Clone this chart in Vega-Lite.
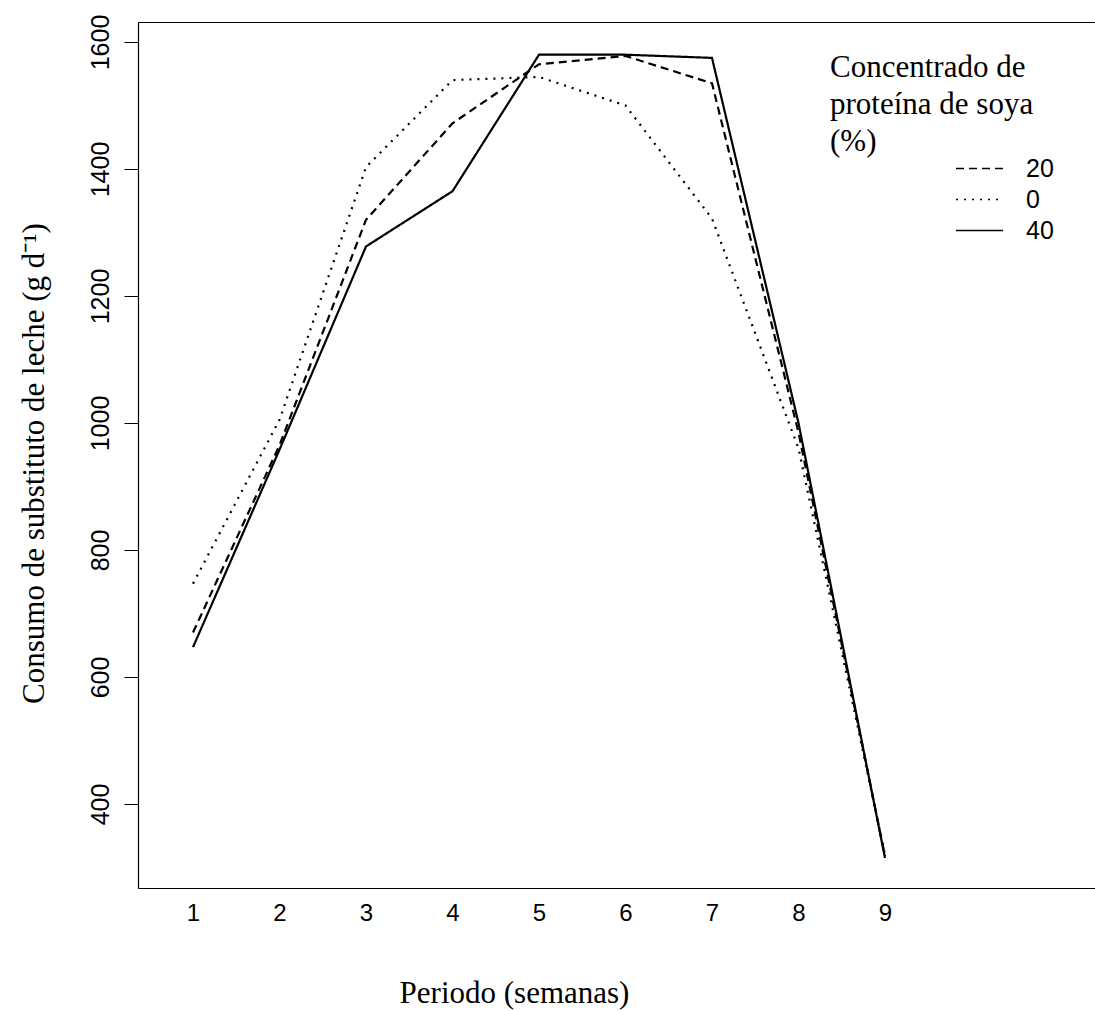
{
  "$schema": "https://vega.github.io/schema/vega-lite/v6.json",
  "width": 957,
  "height": 866,
  "autosize": {"type": "none"},
  "padding": {"left": 138, "top": 22, "right": 0, "bottom": 123},
  "background": "white",
  "data": {
    "values": [
      {"semana": 1, "valor": 670, "soya": "20"},
      {"semana": 2, "valor": 965, "soya": "20"},
      {"semana": 3, "valor": 1320, "soya": "20"},
      {"semana": 4, "valor": 1472, "soya": "20"},
      {"semana": 5, "valor": 1565, "soya": "20"},
      {"semana": 6, "valor": 1578, "soya": "20"},
      {"semana": 7, "valor": 1535, "soya": "20"},
      {"semana": 8, "valor": 985, "soya": "20"},
      {"semana": 9, "valor": 318, "soya": "20"},
      {"semana": 1, "valor": 747, "soya": "0"},
      {"semana": 2, "valor": 1005, "soya": "0"},
      {"semana": 3, "valor": 1403, "soya": "0"},
      {"semana": 4, "valor": 1540, "soya": "0"},
      {"semana": 5, "valor": 1545, "soya": "0"},
      {"semana": 6, "valor": 1500, "soya": "0"},
      {"semana": 7, "valor": 1322, "soya": "0"},
      {"semana": 8, "valor": 960, "soya": "0"},
      {"semana": 9, "valor": 320, "soya": "0"},
      {"semana": 1, "valor": 647, "soya": "40"},
      {"semana": 2, "valor": 958, "soya": "40"},
      {"semana": 3, "valor": 1278, "soya": "40"},
      {"semana": 4, "valor": 1365, "soya": "40"},
      {"semana": 5, "valor": 1580, "soya": "40"},
      {"semana": 6, "valor": 1580, "soya": "40"},
      {"semana": 7, "valor": 1575, "soya": "40"},
      {"semana": 8, "valor": 1000, "soya": "40"},
      {"semana": 9, "valor": 315, "soya": "40"}
    ]
  },
  "config": {
    "view": {"stroke": null},
    "axis": {"grid": false, "domainColor": "black", "domainWidth": 1.2, "tickColor": "black", "labelColor": "black", "titleColor": "black"},
    "legend": {"labelColor": "black", "titleColor": "black"}
  },
  "layer": [
    {
      "mark": {"type": "line", "strokeWidth": 2.2, "color": "black"},
      "encoding": {
        "x": {
          "field": "semana", "type": "quantitative",
          "scale": {"domain": [0.364, 11.428], "nice": false, "zero": false},
          "axis": {
            "orient": "bottom", "values": [1, 2, 3, 4, 5, 6, 7, 8, 9],
            "ticks": false, "tickSize": 0, "labelPadding": 13,
            "labelFont": "Liberation Sans", "labelFontSize": 24,
            "labelFlush": false, "labelOverlap": false,
            "title": "Periodo (semanas)", "titleFont": "Liberation Serif",
            "titleFontSize": 31, "titleFontWeight": "normal",
            "titleX": 376, "titleY": 114, "titleBaseline": "alphabetic", "titleAlign": "center"
          }
        },
        "y": {
          "field": "valor", "type": "quantitative",
          "scale": {"domain": [267.7, 1631.5], "nice": false, "zero": false},
          "axis": {
            "values": [400, 600, 800, 1000, 1200, 1400, 1600], "format": "d",
            "tickSize": 14, "labelAngle": -90, "labelAlign": "center", "labelBaseline": "bottom",
            "labelPadding": 11, "labelFont": "Liberation Sans", "labelFontSize": 25,
            "labelFlush": false, "labelOverlap": false,
            "title": "Consumo de substituto de leche (g d⁻¹)", "titleFont": "Liberation Serif",
            "titleFontSize": 31, "titleFontWeight": "normal", "titleAngle": -90,
            "titleX": -95, "titleY": 441, "titleAlign": "center", "titleBaseline": "alphabetic"
          }
        },
        "strokeDash": {
          "field": "soya", "type": "nominal",
          "scale": {"domain": ["20", "0", "40"], "range": [[8, 5], [2, 6], [1, 0]]},
          "legend": {
            "orient": "none", "legendX": 692, "legendY": 31,
            "title": ["Concentrado de", "proteína de soya", "(%)"],
            "titleFont": "Liberation Serif", "titleFontSize": 31, "titleFontWeight": "normal",
            "titleLineHeight": 37, "titleBaseline": "top", "titlePadding": -2, "titleLimit": 400,
            "labelFont": "Liberation Sans", "labelFontSize": 25,
            "symbolType": "stroke", "symbolSize": 2209, "symbolStrokeWidth": 1.5,
            "symbolStrokeColor": "black", "symbolOffset": 125, "labelOffset": 22,
            "clipHeight": 25, "rowPadding": 5, "padding": 0
          }
        }
      }
    },
    {
      "mark": {"type": "line", "opacity": 0},
      "encoding": {
        "x": {
          "field": "semana", "type": "quantitative",
          "axis": {"orient": "top", "labels": false, "ticks": false, "title": null, "domain": true}
        },
        "y": {"field": "valor", "type": "quantitative"}
      }
    }
  ],
  "resolve": {"axis": {"x": "independent"}}
}
